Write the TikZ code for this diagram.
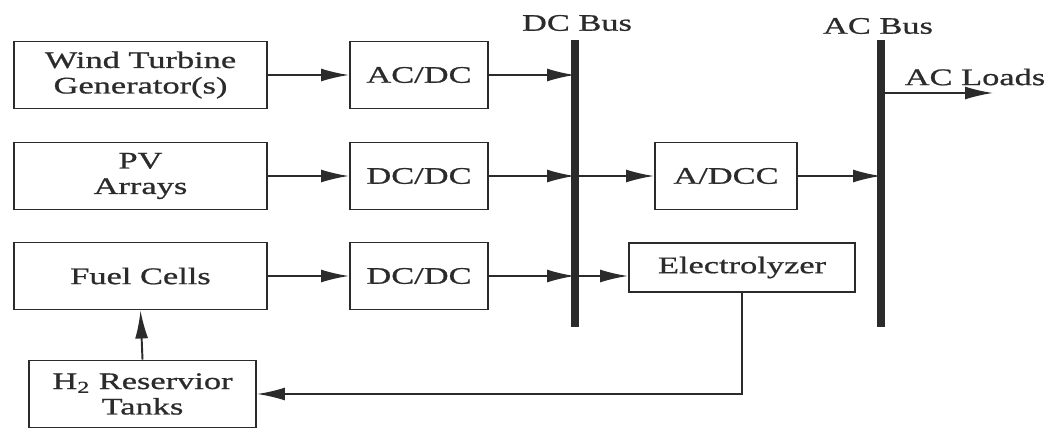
\documentclass[tikz,border=0pt]{standalone}
\usepackage{fontspec}
\setmainfont{Liberation Serif}[FakeStretch=1.45, FakeBold=0.8]
\usepackage{tikz}
\usetikzlibrary{positioning,calc,arrows.meta}
\definecolor{ink}{HTML}{2b2b2b}

\tikzset{
  blockbox/.style={draw=ink, line width=1.1pt, minimum height=1.34cm, align=center, inner sep=0pt, text=ink},
  busline/.style={draw=ink, line width=4pt},
  flow/.style={draw=ink, line width=1.1pt, ->},
}

\begin{document}
\begin{tikzpicture}[>={Latex[length=0.56cm,width=0.26cm]}, font=\fontsize{13.5}{14.5}\selectfont]
  \useasboundingbox (0,0) rectangle (21,8.56);

  % Sources
  \node[blockbox, minimum width=5.06cm] (wind) at (2.81,7.06) {Wind Turbine\\Generator(s)};
  \node[blockbox, minimum width=5.06cm] (pv) at (2.81,5.04) {PV\\Arrays};
  \node[blockbox, minimum width=5.06cm] (fuel) at (2.81,3.04) {Fuel Cells};
  \node[blockbox, minimum width=4.54cm] (tank) at (2.85,0.68) {H\textsubscript{2} Reservior\\Tanks};

  % Converters
  \node[blockbox, minimum width=2.76cm] (acdc) at (8.38,7.06) {AC/DC};
  \node[blockbox, minimum width=2.76cm] (dcdcA) at (8.38,5.04) {DC/DC};
  \node[blockbox, minimum width=2.76cm] (dcdcB) at (8.38,3.04) {DC/DC};
  \node[blockbox, minimum width=2.84cm] (adcc) at (14.52,5.04) {A/DCC};
  \node[blockbox, minimum width=4.52cm, minimum height=0.98cm] (elec) at (14.84,3.21) {Electrolyzer};

  % Buses
  \coordinate (dcTop) at (11.5,7.76);
  \coordinate (dcBot) at (11.5,2.02);
  \coordinate (acTop) at (17.62,7.76);
  \coordinate (acBot) at (17.62,2.02);
  \draw[busline] (dcTop) -- (dcBot);
  \draw[busline] (acTop) -- (acBot);
  \node[text=ink] (dcLabel) at (11.54,8.1) {DC Bus};
  \node[text=ink] (acLabel) at (17.56,8.04) {AC Bus};

  % Flows
  \draw[flow] (wind.east) -- (acdc.west);
  \draw[flow] (pv.east) -- (dcdcA.west);
  \draw[flow] (fuel.east) -- (dcdcB.west);
  \draw[flow] (acdc.east) -- (acdc.east -| dcTop);
  \draw[flow] (dcdcA.east) -- (dcdcA.east -| dcTop);
  \draw[flow] (dcdcB.east) -- (dcdcB.east -| dcTop);
  \draw[flow] (dcdcA.east -| dcTop) -- (adcc.west);
  \draw[flow] (dcdcB.east -| dcTop) -- (dcdcB.east -| elec.west);
  \draw[flow] (adcc.east) -- (adcc.east -| acTop);
  \draw[flow] (elec.south) |- (tank.east);
  \draw[flow] (tank.north) -- (fuel.south);

  % Loads
  \coordinate (loadEnd) at (19.86,6.70);
  \draw[flow] (loadEnd -| acTop) -- (loadEnd);
  \node[text=ink] (loadLabel) at (19.5,7.02) {AC Loads};
\end{tikzpicture}
\end{document}
